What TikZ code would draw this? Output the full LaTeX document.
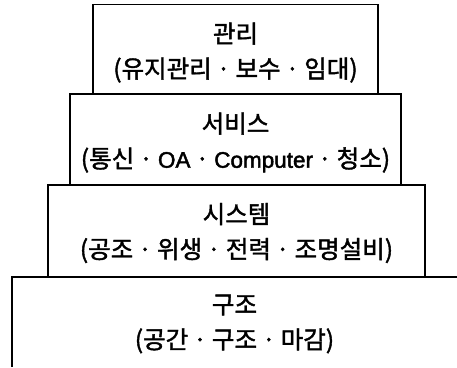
\documentclass[tikz,border=0pt]{standalone}
\usepackage{fontspec}
\newfontfamily\kr[FakeBold=1.6]{Noto Sans CJK KR}
\newfontfamily\lat[FakeBold=2]{Liberation Sans}
\newcommand{\sepdot}{\hspace{5pt}·\hspace{5pt}}
\newcommand{\en}[1]{{\lat\fontsize{22.5}{35}\selectfont #1}}
\begin{document}
\begin{tikzpicture}[x=1pt,y=-1pt,
  tier/.style={draw=black, line width=1.6pt, rectangle, inner sep=0pt, align=center},
  label/.style={inner sep=0pt, align=center, font=\kr\fontsize{24.5}{35}\selectfont}]
\useasboundingbox (0,0) rectangle (457,367);
\node[tier, minimum width=331pt, minimum height=91pt] (service) at (235.5,139.5) {};
\node[tier, minimum width=285pt, minimum height=90pt] (mgmt) at (235.5,49.5) {};
\node[tier, minimum width=377pt, minimum height=92pt] (system) at (236.5,231) {};
\node[label] (mgmttext) at ([yshift=-3pt]mgmt.center) {관리\\(유지관리\sepdot 보수\sepdot 임대)};
\node[label] (servicetext) at ([yshift=-3pt]service.center) {서비스\\(통신\sepdot \en{OA}\sepdot \en{Computer}\sepdot 청소)};
\node[label] (systemtext) at ([yshift=-2pt]system.center) {시스템\\(공조\sepdot 위생\sepdot 전력\sepdot 조명설비)};
\coordinate (bl) at (12,367);
\coordinate (tl) at (12,277);
\coordinate (tr) at (457,277);
\draw[line width=1.6pt] (bl) -- (tl) -- (tr);
\node[label] (structure) at (234.5,324) {구조\\(공간\sepdot 구조\sepdot 마감)};
\end{tikzpicture}
\end{document}
